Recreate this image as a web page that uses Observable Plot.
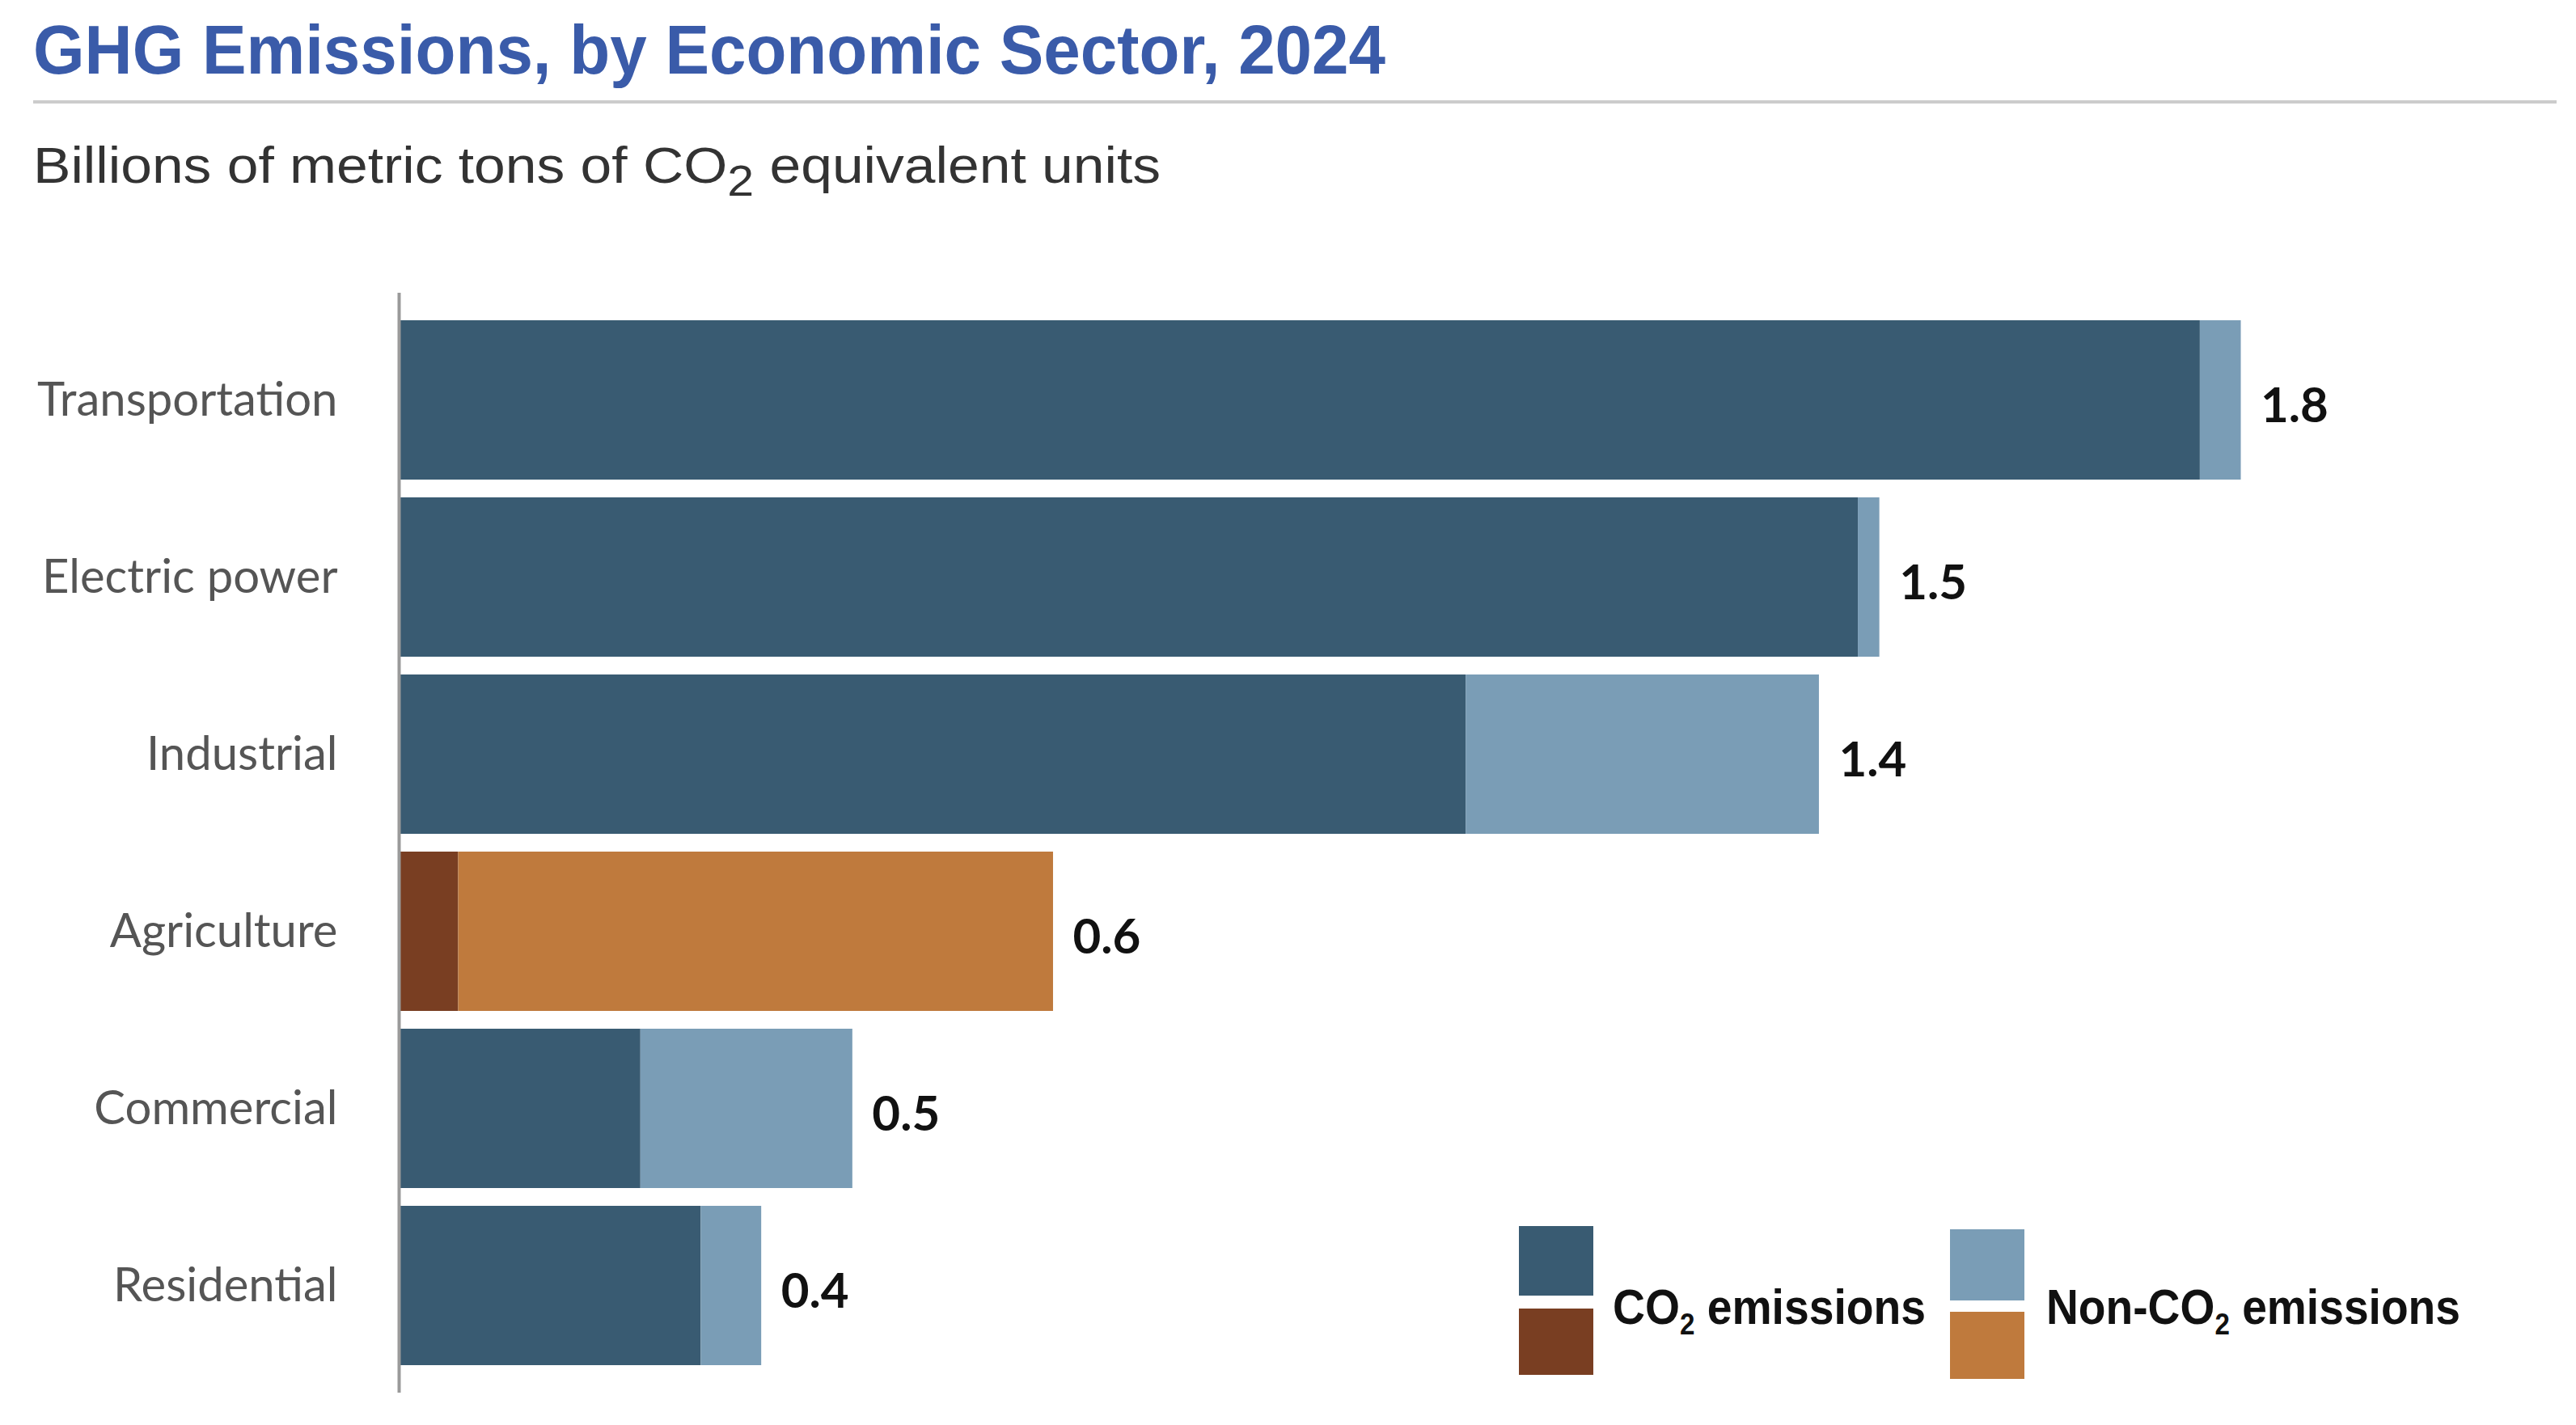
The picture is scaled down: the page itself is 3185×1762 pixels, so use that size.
<!DOCTYPE html>
<html>
<head>
<meta charset="utf-8">
<script src="https://cdn.jsdelivr.net/npm/d3@7"></script>
<script src="https://cdn.jsdelivr.net/npm/@observablehq/plot@0.6"></script>
<style>
  html, body { margin: 0; padding: 0; background: #ffffff; }
  #page { position: relative; width: 3185px; height: 1762px; overflow: hidden; background: #fff; }
  .fit { position: absolute; white-space: nowrap; line-height: 0; transform-origin: 0 50%; }
  #title { left: 41px; top: 62px; font-family: "Liberation Sans", Arial, sans-serif; font-weight: 700; font-size: 85px; color: #3a5ba9; }
  #rule { position: absolute; left: 41px; top: 124px; width: 3120px; height: 4px; background: #cccccc; }
  #subtitle { left: 41px; top: 204px; font-family: "Liberation Sans", Arial, sans-serif; font-weight: 400; font-size: 63px; color: #333333; }
  #subtitle .sub { font-size: 0.85em; position: relative; top: 0.3em; }
  #chart { position: absolute; left: 0; top: 260px; }
  .sw { position: absolute; }
  .lg { font-family: "Liberation Sans", Arial, sans-serif; font-weight: 700; font-size: 62px; color: #111; }
  .lg .sub { font-size: 0.6em; position: relative; top: 0.35em; }
</style>
</head>
<body>
<div id="page">
  <div id="title" class="fit" data-w="1672">GHG Emissions, by Economic Sector, 2024</div>
  <div id="rule"></div>
  <div id="subtitle" class="fit" data-w="1394">Billions of metric tons of CO<span class="sub">2</span> equivalent units</div>
  <div id="chart"></div>
  <div id="legend"></div>
</div>
<script>
// ---- data ----
const sectors = ["Transportation", "Electric power", "Industrial", "Agriculture", "Commercial", "Residential"];
const co2Values = [1.759, 1.425, 1.042, 0.058, 0.236, 0.295];
const nonCo2Values = [0.040, 0.021, 0.345, 0.581, 0.207, 0.059];
const totalLabels = ["1.8", "1.5", "1.4", "0.6", "0.5", "0.4"];
const kinds = ["CO2", "Non-CO2", "Ag CO2", "Ag Non-CO2"];
const kindColors = ["#395b72", "#7a9db6", "#793e22", "#bf7a3d"];
const legendItems = [
  {label: "CO<span class=\"sub\">2</span> emissions", top: kindColors[0], bottom: kindColors[2]},
  {label: "Non-CO<span class=\"sub\">2</span> emissions", top: kindColors[1], bottom: kindColors[3]}
];

const rows = [];
sectors.forEach((s, i) => {
  const ag = s === "Agriculture";
  rows.push({sector: s, kind: ag ? "Ag CO2" : "CO2", value: co2Values[i]});
  rows.push({sector: s, kind: ag ? "Ag Non-CO2" : "Non-CO2", value: nonCo2Values[i]});
});
const totals = sectors.map((s, i) => ({sector: s, total: co2Values[i] + nonCo2Values[i], label: totalLabels[i]}));

const chart = Plot.plot({
  width: 3185,
  height: 1502,
  marginTop: 102,
  marginBottom: 40,
  marginLeft: 493,
  marginRight: 160,
  style: {background: "#fff", fontFamily: "Lato, 'Open Sans', sans-serif", fontSize: "58px", color: "#555555", overflow: "visible"},
  x: {domain: [0, 2], axis: null},
  y: {domain: sectors, paddingInner: 0.1, paddingOuter: 0.145, label: null, tickSize: 0, tickPadding: 76},
  color: {domain: kinds, range: kindColors},
  marks: [
    Plot.barX(rows, Plot.stackX({x: "value", y: "sector", fill: "kind"})),
    Plot.ruleX([0], {stroke: "#9a9a9a", strokeWidth: 4}),
    Plot.text(totals, {x: "total", y: "sector", text: "label", dx: 24, dy: 8, textAnchor: "start",
      fontSize: 60, fontWeight: 700, fill: "#111111", fontFamily: "Lato, sans-serif"})
  ]
});
document.getElementById("chart").appendChild(chart);

// ---- legend (HTML) ----
const legend = document.getElementById("legend");
const lgPos = [
  {x: 1878, w: 92, t1: 1516, h1: 86, t2: 1618, h2: 82, tx: 1994, tw: 387},
  {x: 2411, w: 92, t1: 1520, h1: 88, t2: 1622, h2: 83, tx: 2530, tw: 512}
];
legendItems.forEach((it, i) => {
  const p = lgPos[i];
  const a = document.createElement("div");
  a.className = "sw";
  Object.assign(a.style, {left: p.x + "px", top: p.t1 + "px", width: p.w + "px", height: p.h1 + "px", background: it.top});
  const b = document.createElement("div");
  b.className = "sw";
  Object.assign(b.style, {left: p.x + "px", top: p.t2 + "px", width: p.w + "px", height: p.h2 + "px", background: it.bottom});
  const t = document.createElement("div");
  t.className = "fit lg";
  t.innerHTML = it.label;
  t.dataset.w = p.tw;
  Object.assign(t.style, {left: p.tx + "px", top: "1616px"});
  legend.append(a, b, t);
});

// fit texts horizontally to their target widths
function fitAll() {
  document.querySelectorAll(".fit").forEach(el => {
    el.style.transform = "none";
    const w = el.getBoundingClientRect().width;
    const target = +el.dataset.w;
    if (w > 0 && target) el.style.transform = `scaleX(${target / w})`;
  });
}
fitAll();
if (document.fonts && document.fonts.ready) document.fonts.ready.then(fitAll);
</script>
</body>
</html>
